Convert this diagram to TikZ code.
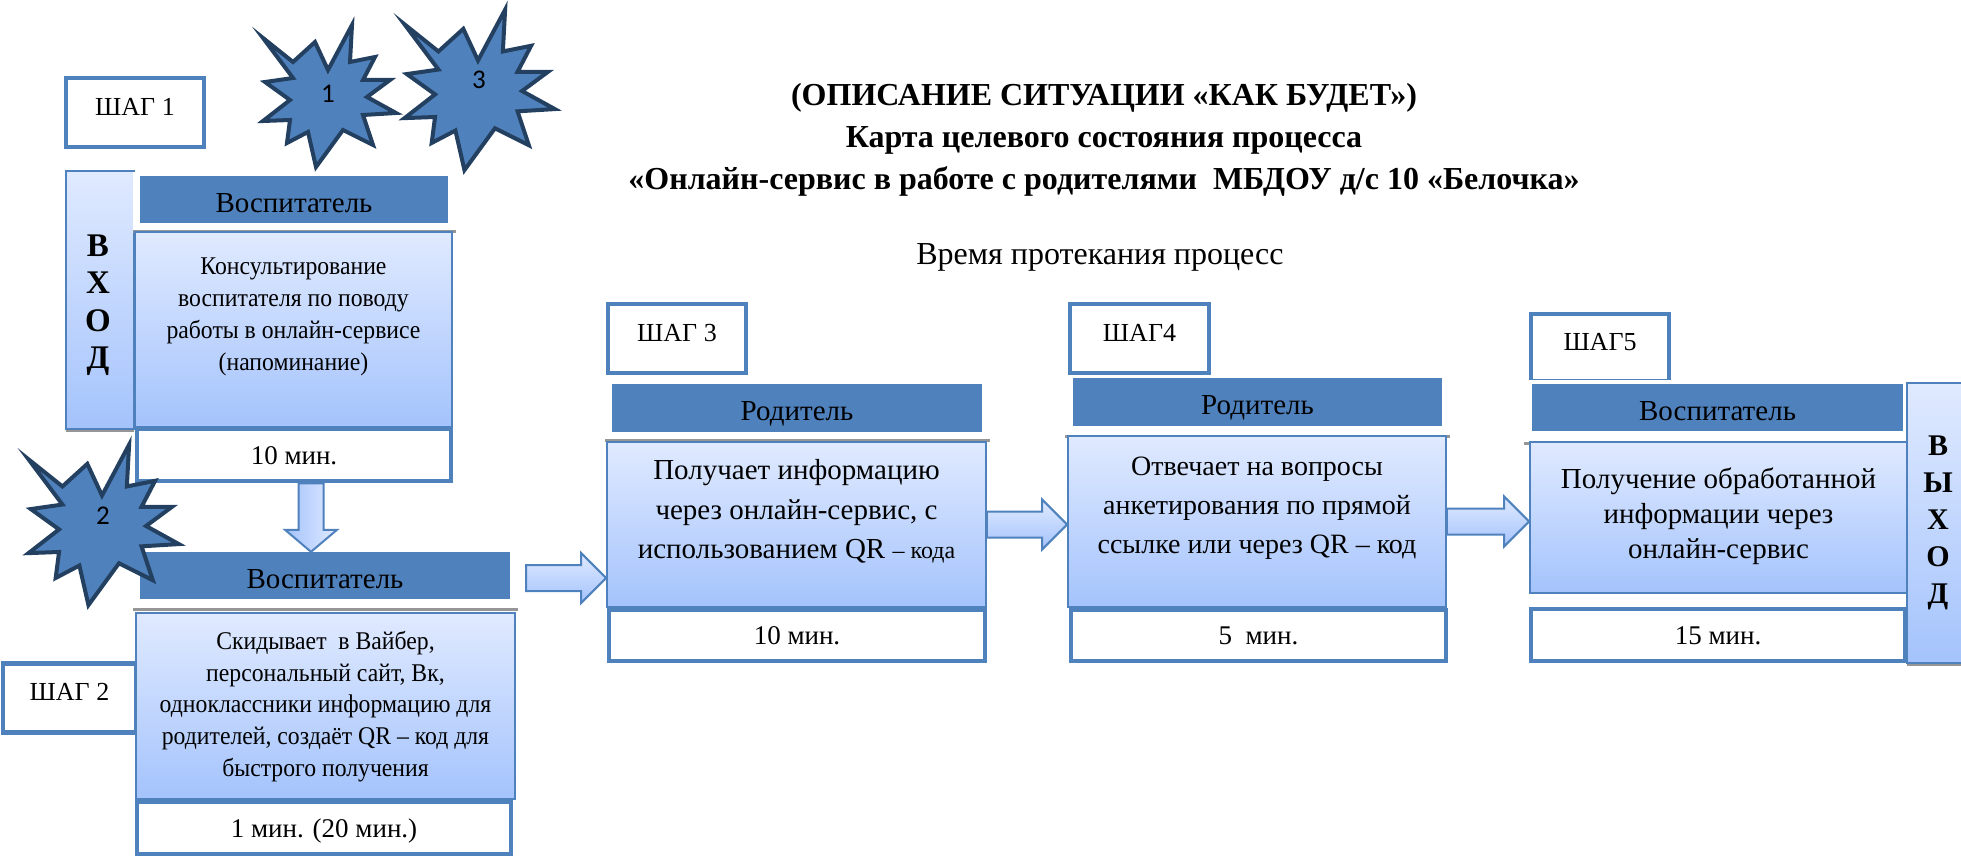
\documentclass[tikz,border=0pt]{standalone}
\usepackage{fontspec}
\setmainfont{Liberation Serif}
\newfontfamily\narrowserif[FakeStretch=0.93]{Liberation Serif}
\newfontfamily\numfont{Carlito}
\usetikzlibrary{calc}
\usetikzlibrary{shadows}

\definecolor{accent}{RGB}{79,129,189}
\definecolor{accentdk}{RGB}{36,64,97}
\definecolor{gradtop}{RGB}{224,234,255}
\definecolor{gradbot}{RGB}{164,195,252}
\definecolor{shade}{RGB}{150,150,150}

\tikzset{
  shagbox/.style = {draw=accent, line width=4.5pt, fill=white, inner sep=0pt,
    minimum width=138pt, minimum height=69pt, text height=18pt, text depth=12.8pt,
    font=\fontsize{26}{30}\selectfont},
  hdrframe/.style = {fill=white, inner sep=0pt,
    drop shadow={shadow xshift=0pt, shadow yshift=-3pt, opacity=1, fill=shade}},
  hdr/.style = {fill=accent, inner sep=0pt, text height=25pt, text depth=0pt,
    font=\fontsize{29}{32}\selectfont},
  body/.style = {draw=accent, line width=1.8pt, top color=gradtop, bottom color=gradbot,
    inner sep=0pt},
  bodytxt/.style = {align=center, inner sep=0pt, font=\narrowserif\fontsize{25.5}{32}\selectfont},
  timebox/.style = {draw=accent, line width=4.5pt, fill=white, inner sep=0pt,
    text height=18pt, text depth=0pt, font=\fontsize{27}{30}\selectfont},
  sidebox/.style = {draw=accent, line width=2pt, top color=gradtop, bottom color=gradbot,
    inner sep=0pt,
    drop shadow={shadow xshift=0pt, shadow yshift=-3pt, opacity=1, fill=shade}},
  sidetxt/.style = {align=center, inner sep=0pt, font=\bfseries\fontsize{33}{37.5}\selectfont},
  blockarr/.style = {draw=accent, line width=2pt},
  burst/.style = {fill=accent, draw=accentdk, line width=4pt},
  burstnum/.style = {inner sep=0pt, font=\numfont\fontsize{27}{27}\selectfont}
}

% block arrow pointing right, from #1 to tip #2
\newcommand{\rarrow}[2]{%
  \draw[blockarr, top color=gradtop, bottom color=gradbot]
    ($(#1)+(0,-13)$) -- ($(#2)+(-25,-13)$) -- ($(#2)+(-25,-25)$) -- (#2)
    -- ($(#2)+(-25,25)$) -- ($(#2)+(-25,13)$) -- ($(#1)+(0,13)$) -- cycle;}
% block arrow pointing down
\newcommand{\darrow}[2]{%
  \draw[blockarr, left color=gradbot, right color=gradtop]
    ($(#1)+(-12.5,0)$) -- ($(#2)+(-12.5,-22)$) -- ($(#2)+(-26,-22)$) -- (#2)
    -- ($(#2)+(26,-22)$) -- ($(#2)+(12.5,-22)$) -- ($(#1)+(12.5,0)$) -- cycle;}
% explosion mark
\newcommand{\burst}[2]{%
  \draw[burst, shift={(#1)}, scale=#2]
    (-65,-59) -- (-35,-35) -- (-13,-55) -- (0,-27) -- (24,-72) -- (22,-35)
    -- (47,-40) -- (35,-17) -- (62,-17) -- (39,0) -- (68,16) -- (35,18)
    -- (45,48) -- (15,33) -- (-12,70) -- (-20,35) -- (-41,46) -- (-38,23)
    -- (-65,24) -- (-38,3) -- (-63,-15) -- (-35,-19) -- cycle;}

\begin{document}
\begin{tikzpicture}[x = 1pt, y = -1pt]
  \useasboundingbox (0,0) rectangle (1961,856);

  % title
  \node[align=center, inner sep=0pt, font=\bfseries\fontsize{32}{42}\selectfont]
    (title) at (1104,140)
    {(ОПИСАНИЕ СИТУАЦИИ «КАК БУДЕТ»)\\
     Карта целевого состояния процесса\\
     «Онлайн-сервис в работе с родителями\ \ МБДОУ д/с 10 «Белочка»};
  \node[anchor=base, inner sep=0pt, font=\fontsize{32}{36}\selectfont]
    (period) at (1100,264) {Время протекания процесс};

  % entry and exit
  \node[sidebox, minimum width=68pt, minimum height=258pt] (in) at (100,300) {};
  \node[sidetxt] (intxt) at ([xshift=-2pt, yshift=-5pt]in.center) {В\\Х\\О\\Д};
  \node[sidebox, minimum width=62pt, minimum height=280pt] (out) at (1938,523) {};
  \node[sidetxt, font=\bfseries\fontsize{30}{37}\selectfont] (outtxt) at (out.center)
    {В\\Ы\\Х\\О\\Д};

  % step labels
  \node[shagbox] (s1) at (135,112.5) {ШАГ 1};
  \node[shagbox, minimum width=133pt] (s2) at (69.5,698) {ШАГ 2};
  \node[shagbox] (s3) at (677,338.5) {ШАГ 3};
  \node[shagbox, minimum width=139pt] (s4) at (1139.5,338.5) {ШАГ4};
  \node[shagbox, minimum height=67pt] (s5) at (1600,347.5) {ШАГ5};

  % headers
  \node[hdrframe, minimum width=323pt, minimum height=58pt] (h1f) at (294.5,201) {};
  \node[hdr, minimum width=308pt, minimum height=47pt] (h1) at (294,199.5) {Воспитатель};
  \node[hdrframe, minimum width=385pt, minimum height=63pt] (h2f) at (325.5,576.5) {};
  \node[hdr, minimum width=370pt, minimum height=47pt] (h2) at (325,575.5) {Воспитатель};
  \node[hdrframe, minimum width=385pt, minimum height=60pt] (h3f) at (797.5,409) {};
  \node[hdr, minimum width=370pt, minimum height=48pt] (h3) at (797,408) {Родитель};
  \node[hdrframe, minimum width=385pt, minimum height=60pt] (h4f) at (1257.5,405) {};
  \node[hdr, minimum width=369pt, minimum height=48pt] (h4) at (1257.5,402) {Родитель};
  \node[hdrframe, minimum width=381pt, minimum height=62pt] (h5f) at (1714.5,411) {};
  \node[hdr, minimum width=371pt, minimum height=47pt] (h5) at (1717.5,407.5) {Воспитатель};

  % bodies
  \node[body, minimum width=317pt, minimum height=195pt] (b1) at (293.5,329.5) {};
  \node[bodytxt] (b1t) at ([yshift=-86pt]b1.north)
    {Консультирование\\ воспитателя по поводу\\ работы в онлайн-сервисе\\ (напоминание)};
  \node[body, minimum width=379pt, minimum height=186pt] (b2) at (325.5,706) {};
  \node[bodytxt, font=\narrowserif\fontsize{25.5}{31.75}\selectfont] (b2t) at ([yshift=-94.5pt]b2.north)
    {Скидывает\ \ в Вайбер,\\ персональный сайт, Вк,\\ одноклассники информацию для\\
     родителей, создаёт QR – код для\\ быстрого получения};
  \node[body, minimum width=379pt, minimum height=165pt] (b3) at (796.5,524.5) {};
  \node[bodytxt, font=\fontsize{29}{39.5}\selectfont] (b3t) at ([yshift=-70.5pt]b3.north)
    {Получает информацию\\ через онлайн-сервис, с\\
     использованием QR {\fontsize{24}{39.5}\selectfont – кода}};
  \node[body, minimum width=378pt, minimum height=171pt] (b4) at (1257,521.5) {};
  \node[bodytxt, font=\fontsize{28}{39}\selectfont] (b4t) at ([yshift=-73pt]b4.north)
    {Отвечает на вопросы\\ анкетирования по прямой\\ ссылке или через QR – код};
  \node[body, minimum width=377pt, minimum height=151pt] (b5) at (1718.5,517.5) {};
  \node[bodytxt, font=\fontsize{29}{35}\selectfont] (b5t) at ([yshift=-75pt]b5.north)
    {Получение обработанной\\ информации через\\ онлайн-сервис};

  % times
  \node[timebox, minimum width=314pt, minimum height=52pt] (t1) at (294,455) {10 мин.};
  \node[timebox, minimum width=374pt, minimum height=52pt] (t2) at (324,828) {1 мин. (20 мин.)};
  \node[timebox, minimum width=376pt, minimum height=51pt] (t3) at (797,635.5) {10 мин.};
  \node[timebox, minimum width=375pt, minimum height=51pt] (t4) at (1258.5,635.5) {5\ \ мин.};
  \node[timebox, minimum width=374pt, minimum height=52pt] (t5) at (1718,635) {15 мин.};

  % flow arrows
  \coordinate (d12s) at ([xshift=17pt]t1.south);
  \coordinate (d12e) at (d12s |- h2.north);
  \darrow{d12s}{d12e}
  \coordinate (a23s) at ([xshift=8pt, yshift=-1.5pt]h2f.east);
  \coordinate (a23e) at (a23s -| b3.west);
  \rarrow{a23s}{a23e}
  \coordinate (a34e) at (b3.east -| b4.west);
  \rarrow{b3.east}{a34e}
  \coordinate (a45e) at (b4.east -| b5.west);
  \rarrow{b4.east}{a45e}

  % marks
  \coordinate (st1) at (328,97);
  \coordinate (st2) at (102,526);
  \coordinate (st3) at (478,91);
  \burst{st1}{1}
  \burst{st2}{1.13}
  \burst{st3}{1.13}
  \node[burstnum] (n1) at (328,94) {1};
  \node[burstnum] (n2) at (103,516) {2};
  \node[burstnum] (n3) at (479,80) {3};
\end{tikzpicture}
\end{document}
